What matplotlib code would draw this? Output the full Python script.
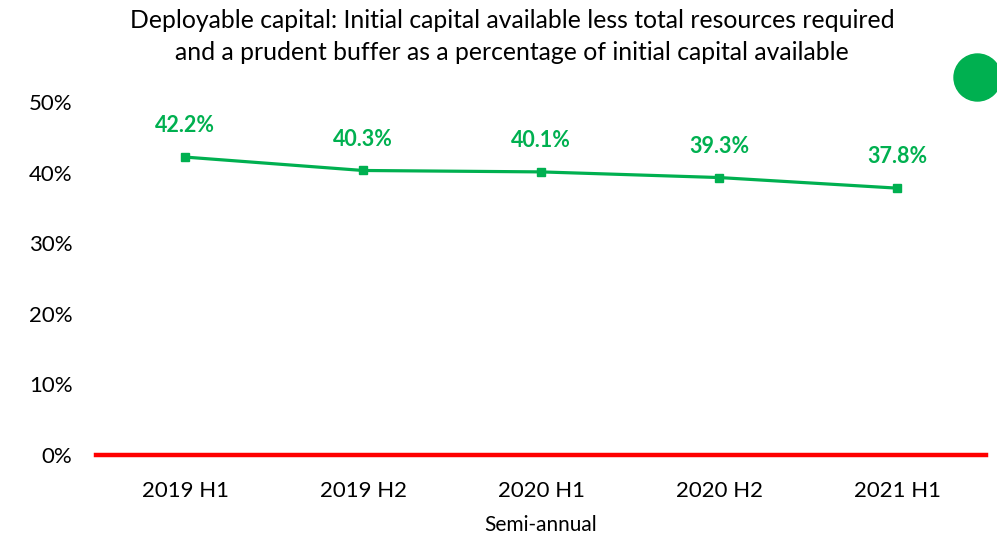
import matplotlib.pyplot as plt
from matplotlib.patches import Ellipse

# Data
periods = ['2019 H1', '2019 H2', '2020 H1', '2020 H2', '2021 H1']
deployable = [42.2, 40.3, 40.1, 39.3, 37.8]
yticks = [0, 10, 20, 30, 40, 50]

green = '#00B050'
plt.rcParams['font.family'] = ['Lato', 'DejaVu Sans']

fig = plt.figure(figsize=(9.97, 5.38), dpi=100)
ax = fig.add_axes([96 / 997, 83 / 538, 890 / 997, 353 / 538])

x = list(range(len(periods)))
ax.axhline(0, color='red', linewidth=3.2, zorder=1, clip_on=False)
ax.plot(x, deployable, color=green, linewidth=2.3, marker='s', markersize=6, zorder=3)

for xi, v in zip(x, deployable):
    ax.annotate(f'{v:.1f}%', (xi, v), xytext=(0, 15), textcoords='offset points',
                ha='center', va='bottom', color=green, fontsize=15.5, fontweight='bold')

ax.set_xlim(-0.5, len(periods) - 0.5)
ax.set_ylim(0, 50)
ax.set_xticks(x)
ax.set_xticklabels(periods, fontsize=16)
ax.set_yticks(yticks)
ax.set_yticklabels([f'{t}%' for t in yticks], fontsize=16)
ax.tick_params(length=0, pad=19)
ax.tick_params(axis='y', pad=17)
for s in ax.spines.values():
    s.set_visible(False)
ax.set_xlabel('Semi-annual', fontsize=15, labelpad=10)

fig.text(512 / 997, 1 - 20 / 538, 'Deployable capital: Initial capital available less total resources required',
         ha='center', va='center', fontsize=17.8)
fig.text(512 / 997, 1 - 53 / 538, 'and a prudent buffer as a percentage of initial capital available',
         ha='center', va='center', fontsize=17.8)

# green status dot at the top right, partly cut by the edge
fig.add_artist(Ellipse((977.5 / 997, 1 - 77.5 / 538), 47 / 997, 47 / 538,
                       transform=fig.transFigure, color=green, clip_on=False))

fig.savefig('out.png', dpi=100)
